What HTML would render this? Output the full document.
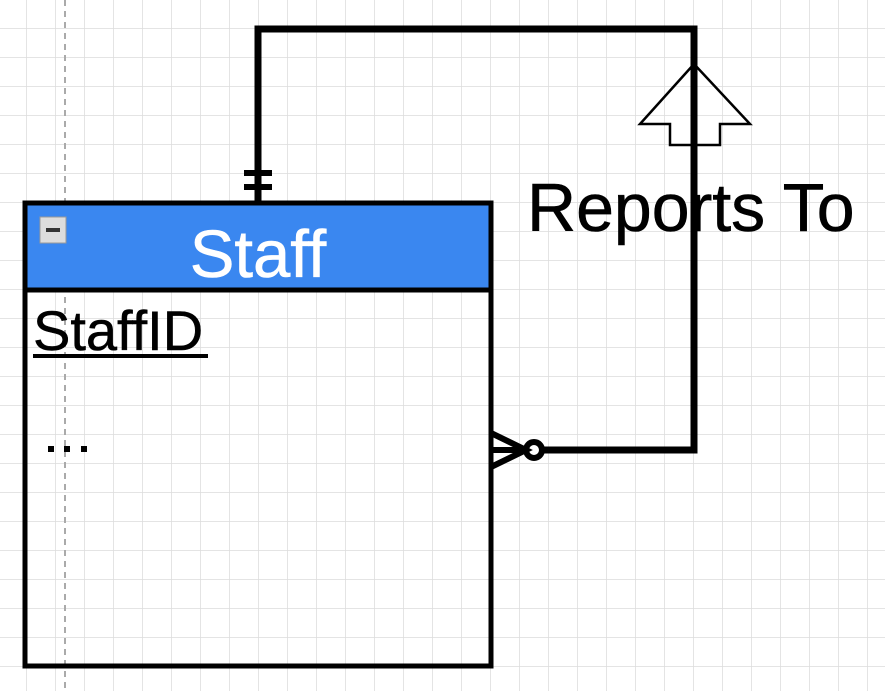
<!DOCTYPE html>
<html><head><style>
html,body{margin:0;padding:0;}
body{width:885px;height:691px;overflow:hidden;background:#fff;position:relative;font-family:"Liberation Sans",sans-serif;}
</style></head><body>
<svg width="885" height="691" viewBox="0 0 885 691" xmlns="http://www.w3.org/2000/svg" style="position:absolute;left:0;top:0">
<defs>
<pattern id="g" x="26" y="28" width="29" height="29" patternUnits="userSpaceOnUse">
<path d="M0 0V29M0 0H29" stroke="#dcdcdc" stroke-width="1.5" fill="none"/>
</pattern>
</defs>
<rect width="885" height="691" fill="url(#g)"/>
<line x1="65" y1="0" x2="65" y2="691" stroke="#aaa" stroke-width="2" stroke-dasharray="6,5"/>
<rect x="25" y="203" width="466" height="88" fill="#3a87f0"/>
<rect x="25" y="203" width="466" height="463" fill="none" stroke="#000" stroke-width="5"/>
<line x1="25" y1="290" x2="491" y2="290" stroke="#000" stroke-width="5"/>
<rect x="40" y="217" width="26" height="26" fill="#ddd" stroke="#999" stroke-width="1"/>
<rect x="46" y="228" width="14" height="4" fill="#333"/>
<text x="258" y="277" font-size="67" fill="#fff" text-anchor="middle" font-family="Liberation Sans" stroke="#fff" stroke-width="0.6">Staff</text>
<text x="33" y="350" font-size="56" fill="#000" font-family="Liberation Sans" stroke="#000" stroke-width="0.5">StaffID</text>
<rect x="33" y="354" width="175" height="4" fill="#000"/>
<rect x="48" y="446" width="6" height="6" fill="#000"/>
<rect x="64" y="446" width="6" height="6" fill="#000"/>
<rect x="81" y="446" width="6" height="6" fill="#000"/>
<polyline points="258,203 258,29 694,29 694,450 542,450" fill="none" stroke="#000" stroke-width="7"/>
<line x1="244" y1="173" x2="272" y2="173" stroke="#000" stroke-width="6"/>
<line x1="244" y1="187" x2="272" y2="187" stroke="#000" stroke-width="6"/>
<circle cx="534" cy="450" r="8" fill="#fff" stroke="#000" stroke-width="6"/>
<path d="M491 433 L526 450 L491 467 M491 450 L526 450" fill="none" stroke="#000" stroke-width="6"/>
<polygon points="694,64 750,124 720,124 720,145 670,145 670,124 640,124" fill="none" stroke="#000" stroke-width="2.5"/>
<line x1="694" y1="29" x2="694" y2="160" stroke="#000" stroke-width="7"/>
<text x="527" y="231" font-size="68" fill="#000" font-family="Liberation Sans" stroke="#000" stroke-width="0.6">Reports To</text>
</svg>
</body></html>
